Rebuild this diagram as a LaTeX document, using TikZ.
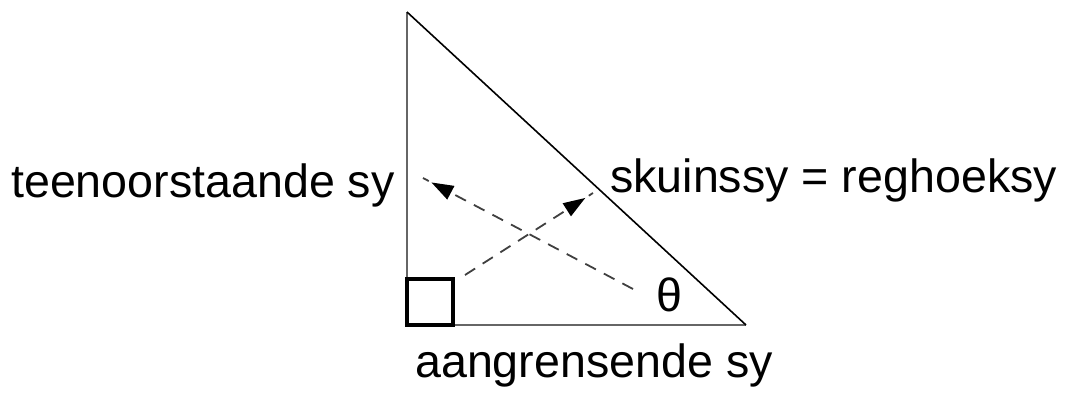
\documentclass[tikz,border=0pt]{standalone}
\usepackage{fontspec}
\setmainfont{Liberation Sans}
\usetikzlibrary{arrows.meta,decorations.markings}
\tikzset{
  leg/.style={draw=gray!80!black,line width=2.6pt},
  hyp/.style={draw=black,line width=1.6pt},
  rightsq/.style={draw=black,line width=3.2pt},
  dasharrow/.style={draw=black!75,line width=1.8pt,dash pattern=on 12pt off 9pt,
    postaction={decorate},
    decoration={markings,mark=at position #1 with {\arrow[black,solid]{Triangle[length=22pt,width=15pt]}}}},
  lbl/.style={inner sep=0pt,anchor=base west,font=\fontsize{46.6}{52}\selectfont}
}
\begin{document}
\begin{tikzpicture}[x=1pt,y=-1pt]
\useasboundingbox[fill=white] (0,0) rectangle (1065,394);
\coordinate (T) at (407,12);
\coordinate (BL) at (407,325);
\coordinate (BR) at (746,325);
\draw[leg] (T) -- (BL) -- (BR);
\draw[hyp] (T) -- (BR);
\draw[rightsq] (407,279) rectangle (453,325);
\coordinate (a1s) at (633,289);
\coordinate (a1e) at (423,178);
\coordinate (a2s) at (465,275);
\coordinate (a2e) at (593,193);
\draw[dasharrow=0.96] (a1s) -- (a1e);
\draw[dasharrow=0.94] (a2s) -- (a2e);
\node[lbl] (opp) at (11,197) {teenoorstaande sy};
\node[lbl] (hypt) at (610,192) {skuinssy = reghoeksy};
\node[lbl] (adj) at (415,377) {aangrensende sy};
\node[lbl] (th) at (656,311) {θ};
\end{tikzpicture}
\end{document}
